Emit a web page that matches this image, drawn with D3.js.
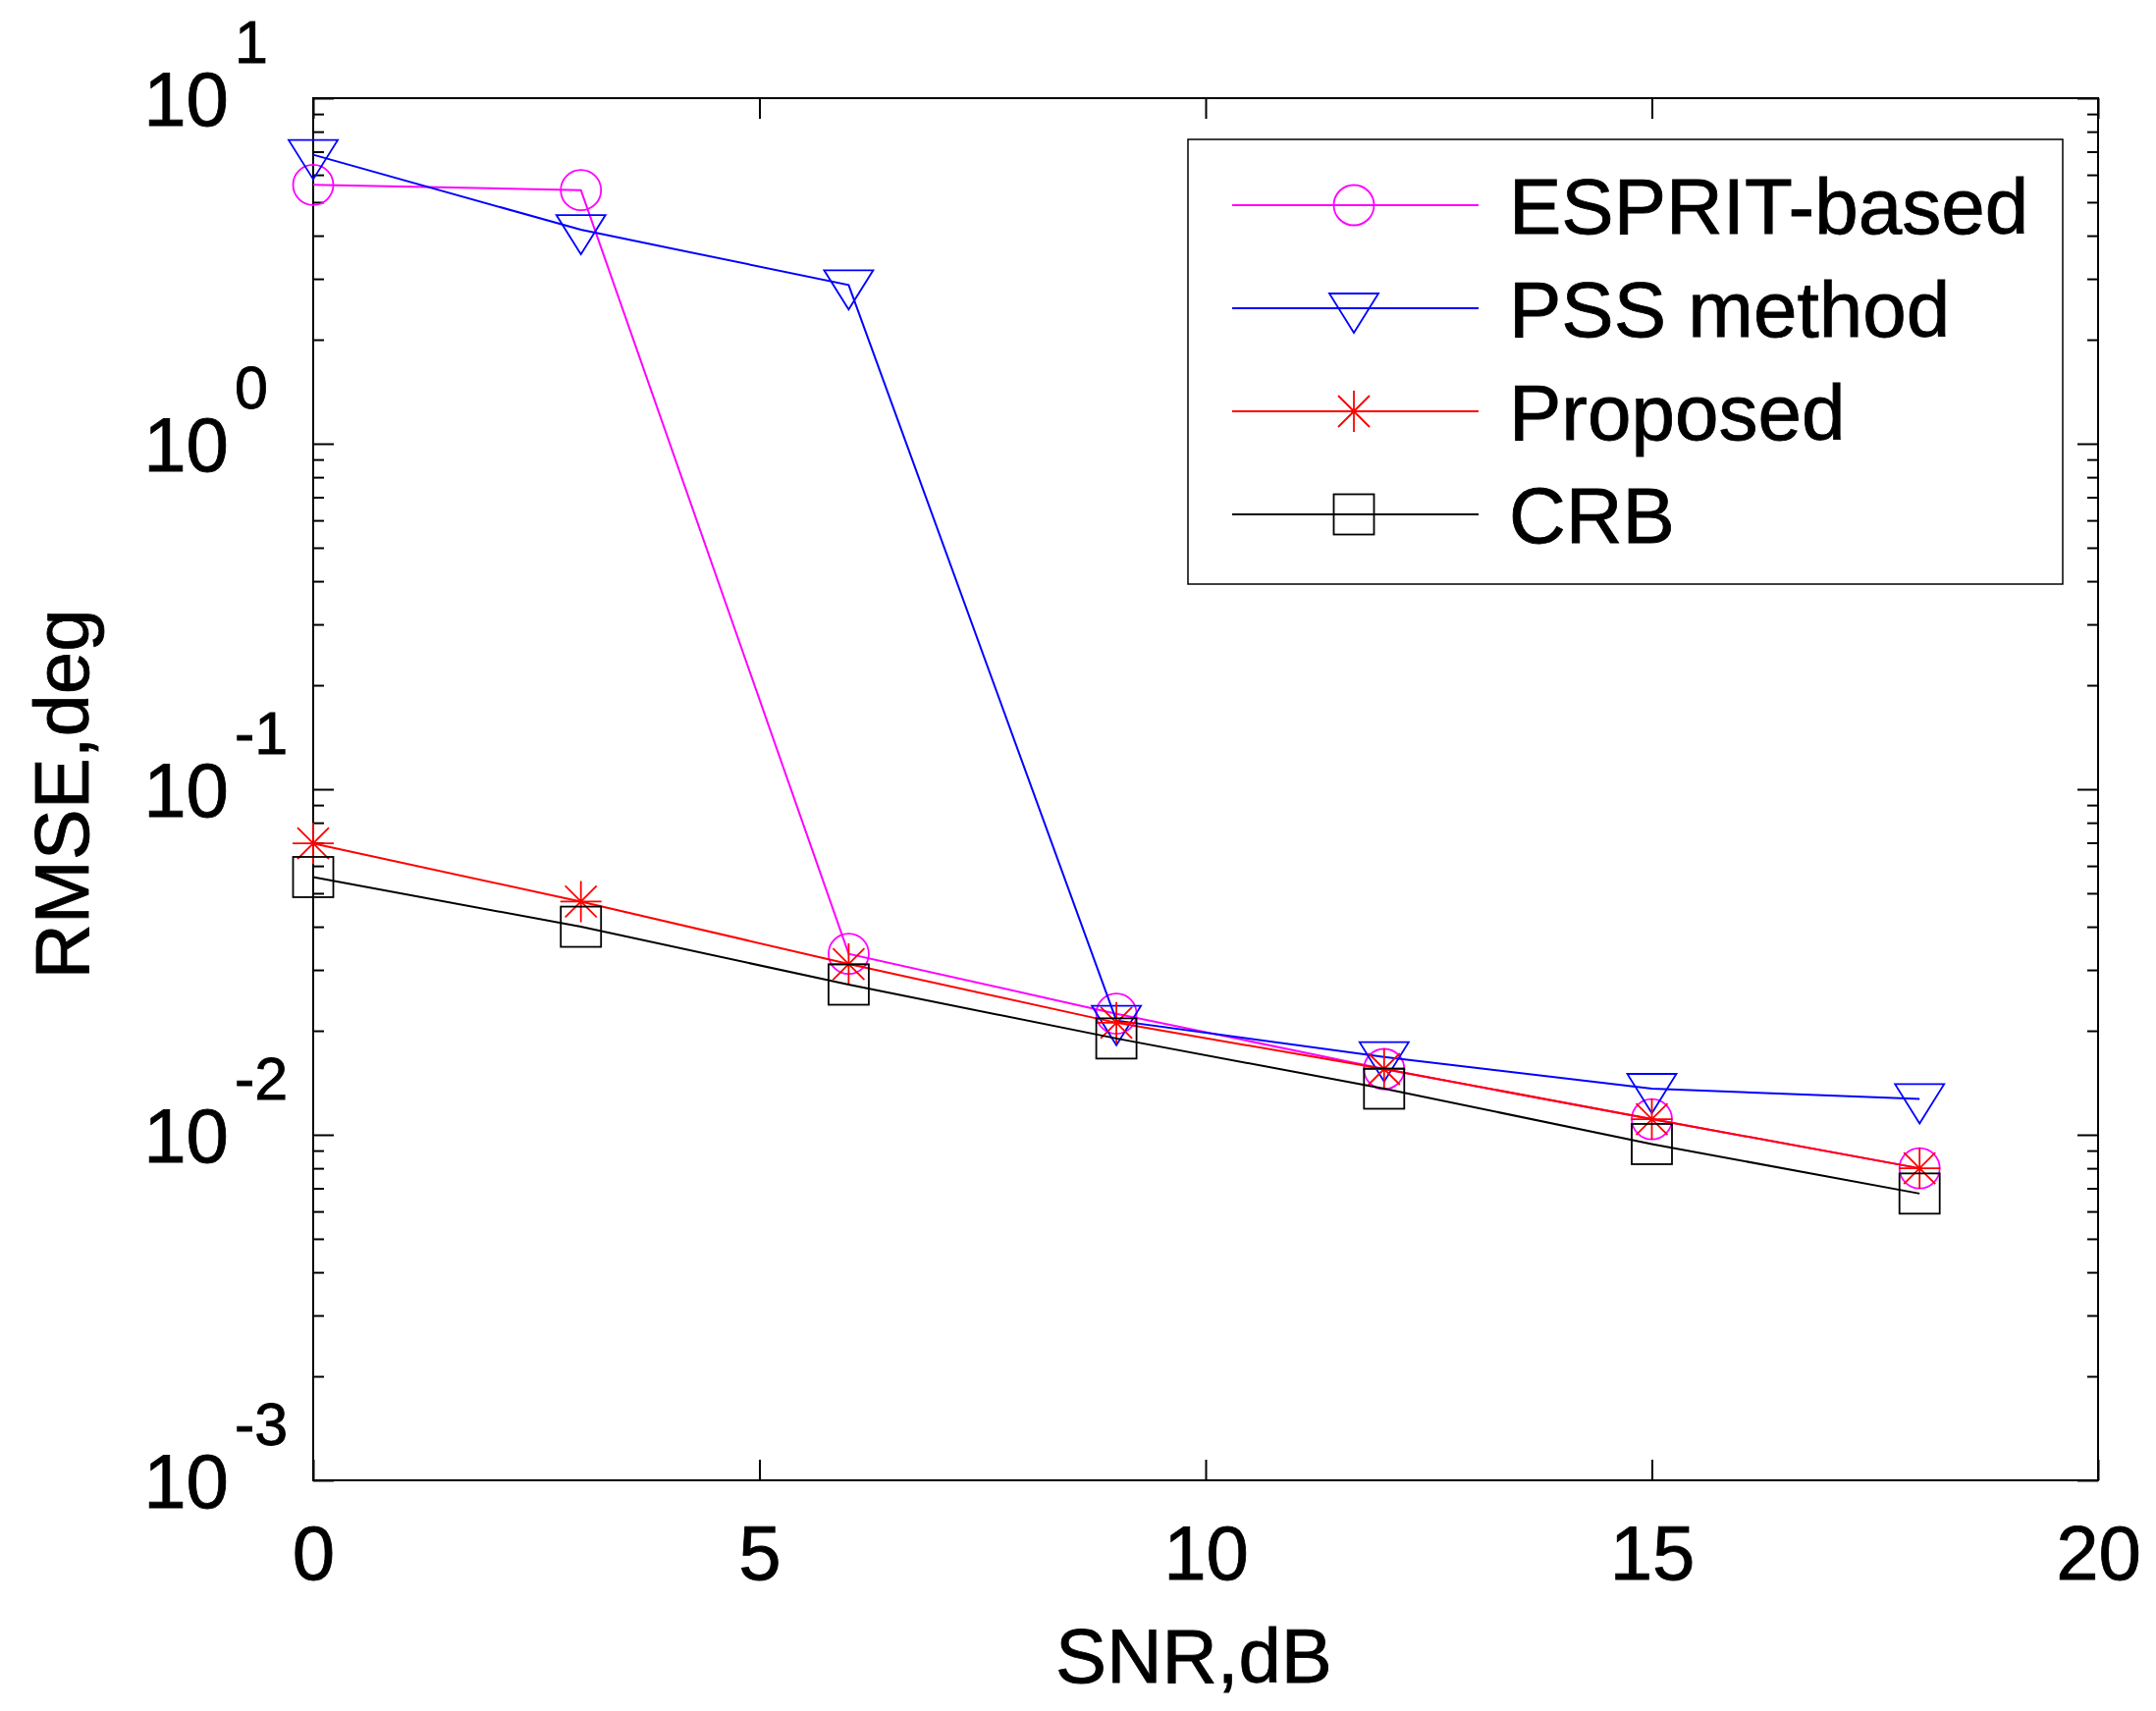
<!DOCTYPE html>
<html lang="en">
<head>
  <meta charset="UTF-8" />
  <script src="https://d3js.org/d3.v7.min.js"></script>
  <title>RMSE vs SNR</title>
  <style>
    body { margin: 0; background: #fff; }
    text { font-family: "Liberation Sans", Arial, sans-serif; fill: #000; stroke: #000; stroke-width: 0.8px; }
  </style>
</head>
<body>
<script type="text/javascript">
// data
var snr = [0, 3, 6, 9, 12, 15, 18];
var esprit = [5.61, 5.42, 0.0334, 0.0224, 0.0155, 0.0111, 0.0080];
var pss = [6.86, 4.16, 2.88, 0.0214, 0.0168, 0.0136, 0.0127];
var proposed = [0.0697, 0.0473, 0.0312, 0.0211, 0.0155, 0.0111, 0.0080];
var crb = [0.0557, 0.0400, 0.0272, 0.0190, 0.0136, 0.0094, 0.00676];

var seriesNames = ["ESPRIT-based", "PSS method", "Proposed", "CRB"];
var xTicks = [0, 5, 10, 15, 20];
var yExponents = [1, 0, -1, -2, -3];

var series = [
  {name: seriesNames[0], values: esprit, color: "#ff00ff", marker: "circle"},
  {name: seriesNames[1], values: pss, color: "#0000ff", marker: "triangle"},
  {name: seriesNames[2], values: proposed, color: "#ff0000", marker: "asterisk"},
  {name: seriesNames[3], values: crb, color: "#000000", marker: "square"}
];

var W = 2196, H = 1743;
var margin = {top: 100, right: 59, bottom: 235, left: 319};
var width = W - margin.left - margin.right;
var height = H - margin.top - margin.bottom;
var fontSize = 78;

var svg = d3.select("body").append("svg")
  .attr("width", W).attr("height", H)
  .style("background", "#fff");
var g = svg.append("g")
  .attr("transform", "translate(" + margin.left + "," + margin.top + ")");

var x = d3.scaleLinear().domain([0, 20]).range([0, width]);
var y = d3.scaleLog().domain([1e-3, 1e1]).range([height, 0]);

// minor tick values 2..9 per decade
var minor = [];
for (var e = -3; e < 1; e++) {
  for (var m = 2; m <= 9; m++) minor.push(m * Math.pow(10, e));
}
var major = yExponents.map(function(p) { return Math.pow(10, p); });

function styleAxis(sel) {
  sel.select(".domain").remove();
  sel.selectAll("line").attr("stroke", "#000").attr("stroke-width", 2);
}

// x axes (bottom with labels, top without)
g.append("g")
  .attr("transform", "translate(0," + height + ")")
  .call(d3.axisBottom(x).tickValues(xTicks).tickSizeInner(-21).tickSizeOuter(0).tickPadding(46))
  .call(styleAxis)
  .selectAll("text").style("font-size", fontSize + "px").attr("fill", "#000");
g.append("g")
  .call(d3.axisTop(x).tickValues(xTicks).tickSizeInner(-21).tickSizeOuter(0).tickFormat(""))
  .call(styleAxis);

// y axes major and minor, left and right
g.append("g").call(d3.axisLeft(y).tickValues(major).tickSizeInner(-21).tickSizeOuter(0).tickFormat("")).call(styleAxis);
g.append("g").call(d3.axisLeft(y).tickValues(minor).tickSizeInner(-11).tickSizeOuter(0).tickFormat("")).call(styleAxis);
g.append("g").attr("transform", "translate(" + width + ",0)")
  .call(d3.axisRight(y).tickValues(major).tickSizeInner(-21).tickSizeOuter(0).tickFormat("")).call(styleAxis);
g.append("g").attr("transform", "translate(" + width + ",0)")
  .call(d3.axisRight(y).tickValues(minor).tickSizeInner(-11).tickSizeOuter(0).tickFormat("")).call(styleAxis);

// y tick labels 10^n
var ylab = g.append("g");
yExponents.forEach(function(p) {
  var yy = y(Math.pow(10, p));
  ylab.append("text")
    .attr("x", -86).attr("y", yy + 28)
    .attr("text-anchor", "end")
    .style("font-size", fontSize + "px")
    .text("10");
  ylab.append("text")
    .attr("x", -80).attr("y", yy - 36)
    .style("font-size", "61px")
    .text(p < 0 ? "-" + Math.abs(p) : String(p));
});

// axes box
g.append("rect")
  .attr("width", width).attr("height", height)
  .attr("fill", "none").attr("stroke", "#000").attr("stroke-width", 2);

// marker drawing
function drawMarker(sel, type, color) {
  if (type === "circle") {
    sel.append("circle").attr("r", 20.5)
      .attr("fill", "none").attr("stroke", color).attr("stroke-width", 1.8);
  } else if (type === "triangle") {
    sel.append("path").attr("d", "M-25,-15L25,-15L0,25Z")
      .attr("fill", "none").attr("stroke", color).attr("stroke-width", 1.8);
  } else if (type === "square") {
    sel.append("rect").attr("x", -20.5).attr("y", -20.5).attr("width", 41).attr("height", 41)
      .attr("fill", "none").attr("stroke", color).attr("stroke-width", 1.8);
  } else if (type === "asterisk") {
    sel.append("path").attr("d", "M0,-21L0,21M-21,0L21,0M-16,-16L16,16M-16,16L16,-16")
      .attr("fill", "none").attr("stroke", color).attr("stroke-width", 1.8);
  }
}

var line = d3.line()
  .x(function(d) { return x(d[0]); })
  .y(function(d) { return y(d[1]); });

series.forEach(function(s) {
  var pts = snr.map(function(v, i) { return [v, s.values[i]]; });
  g.append("path").datum(pts)
    .attr("d", line)
    .attr("fill", "none").attr("stroke", s.color).attr("stroke-width", 2);
  g.selectAll(null).data(pts).enter().append("g")
    .attr("transform", function(d) { return "translate(" + x(d[0]) + "," + y(d[1]) + ")"; })
    .each(function() { drawMarker(d3.select(this), s.marker, s.color); });
});

// axis titles
svg.append("text")
  .attr("x", 1216).attr("y", 1714)
  .attr("text-anchor", "middle")
  .style("font-size", fontSize + "px")
  .text("SNR,dB");
svg.append("text")
  .attr("transform", "translate(90,809) rotate(-90)")
  .attr("text-anchor", "middle")
  .style("font-size", fontSize + "px")
  .text("RMSE,deg");

// legend
var leg = svg.append("g");
leg.append("rect")
  .attr("x", 1210).attr("y", 142).attr("width", 891).attr("height", 453)
  .attr("fill", "#fff").attr("stroke", "#000").attr("stroke-width", 1.5);
var rowY = d3.scalePoint().domain(seriesNames).range([209, 524]);
series.forEach(function(s) {
  var ry = rowY(s.name);
  leg.append("line")
    .attr("x1", 1255).attr("x2", 1506).attr("y1", ry).attr("y2", ry)
    .attr("stroke", s.color).attr("stroke-width", 2);
  var mk = leg.append("g").attr("transform", "translate(1379," + ry + ")");
  drawMarker(mk, s.marker, s.color);
  leg.append("text")
    .attr("x", 1537).attr("y", ry + 29)
    .style("font-size", "80px")
    .text(s.name);
});
</script>
</body>
</html>
